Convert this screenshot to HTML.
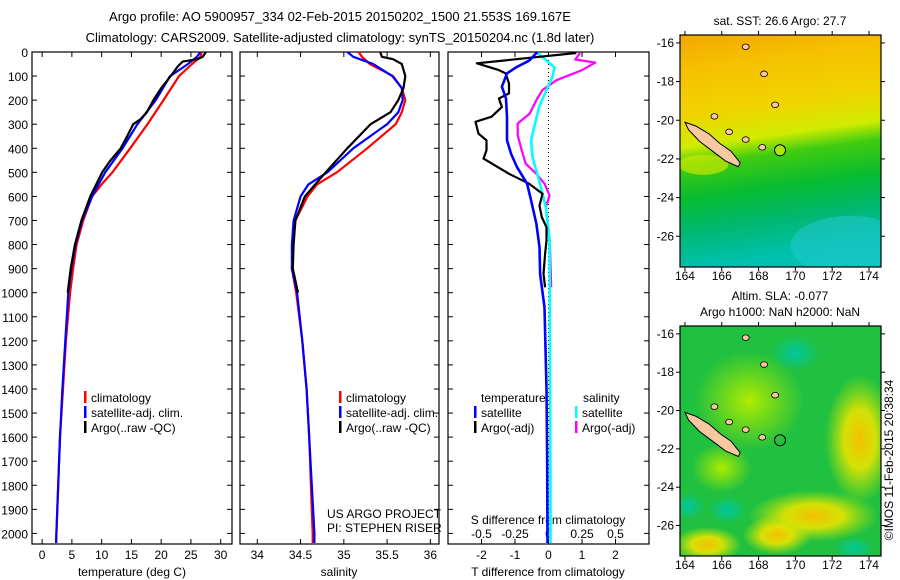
<!DOCTYPE html>
<html><head><meta charset="utf-8"><style>
html,body{margin:0;padding:0;background:#fff;}
svg{display:block;font-family:"Liberation Sans",sans-serif;}
text{font-size:12px;fill:#000;}
</style></head><body>
<svg id="chart" width="900" height="580" viewBox="0 0 900 580">
<defs>
<linearGradient id="sstGrad" x1="0" y1="0" x2="0.12" y2="1">
<stop offset="0" stop-color="#f2a800"/><stop offset="0.15" stop-color="#f6c000"/>
<stop offset="0.35" stop-color="#f0d400"/><stop offset="0.48" stop-color="#d0ec00"/>
<stop offset="0.56" stop-color="#40cc10"/><stop offset="0.7" stop-color="#08bc30"/>
<stop offset="0.84" stop-color="#00b870"/><stop offset="1" stop-color="#00c0b0"/>
</linearGradient>
<radialGradient id="yb"><stop offset="0" stop-color="#f4c000"/><stop offset="0.45" stop-color="#e8e400" stop-opacity="0.9"/><stop offset="1" stop-color="#c0e800" stop-opacity="0"/></radialGradient>
<radialGradient id="lg"><stop offset="0" stop-color="#b0ec00"/><stop offset="1" stop-color="#a8e800" stop-opacity="0"/></radialGradient>
<radialGradient id="tb"><stop offset="0" stop-color="#00c8a0"/><stop offset="1" stop-color="#00c8a0" stop-opacity="0"/></radialGradient>
<clipPath id="m1c"><rect x="680" y="35" width="201" height="232"/></clipPath>
<clipPath id="m2c"><rect x="680" y="326" width="201" height="230"/></clipPath>
</defs>
<text x="340" y="21" text-anchor="middle" style="font-size:13px">Argo profile: AO 5900957_334 02-Feb-2015 20150202_1500 21.553S 169.167E</text>
<text x="340" y="42" text-anchor="middle" style="font-size:13px">Climatology: CARS2009. Satellite-adjusted climatology: synTS_20150204.nc (1.8d later)</text>
<g id="panels"></g>
<g id="maps"></g>
<text transform="translate(893,460) rotate(-90)" text-anchor="middle">©IMOS 11-Feb-2015 20:38:34</text>
</svg>
<script>
const NS="http://www.w3.org/2000/svg";
function mk(tag,attrs,parent,txt){const e=document.createElementNS(NS,tag);for(const k in attrs)e.setAttribute(k,attrs[k]);if(txt!==undefined)e.textContent=txt;parent.appendChild(e);return e;}

// ---- data ----
const depthTicks=[0,100,200,300,400,500,600,700,800,900,1000,1100,1200,1300,1400,1500,1600,1700,1800,1900,2000];
const tempTicks=[0,5,10,15,20,25,30];
const salTicks=[34,34.5,35,35.5,36];
const tdiffTicks=[-2,-1,0,1,2];
const sdiffTicks=[-0.5,-0.25,0,0.25,0.5];
const sdiffLabels=["-0.5","-0.25","0","0.25","0.5"];

const tClimDepth=[0,20,50,100,200,300,400,500,550,600,700,800,900,1000,1200,1400,1600,1800,2000,2040];
const tClim=[26.8,26.6,25.2,23.0,20.4,17.7,14.8,11.8,10.0,8.4,6.9,5.8,5.2,4.7,4.0,3.5,3.0,2.7,2.4,2.35];
const tSatDepth=[0,20,50,100,200,300,400,500,600,700,800,900,1000,1200,1400,1600,1800,2000,2040];
const tSat=[26.6,26.0,24.5,21.5,19.1,16.0,13.5,10.6,8.4,6.7,5.6,4.9,4.4,3.9,3.4,3.0,2.7,2.4,2.35];
const tArgoDepth=[0,20,30,40,60,100,150,200,250,280,300,350,400,450,500,600,700,800,900,1000];
const tArgo=[27.5,27.0,26.1,23.6,22.8,21.6,20.0,18.7,17.6,16.5,15.3,14.3,13.2,11.5,10.1,8.1,6.6,5.5,4.8,4.3];

const sClimDepth=[0,20,50,100,150,200,250,300,400,500,550,600,700,800,900,1000,1200,1400,1600,1800,2000,2040];
const sClim=[35.17,35.21,35.30,35.57,35.67,35.71,35.67,35.60,35.27,34.92,34.69,34.58,34.44,34.41,34.40,34.45,34.52,34.57,34.60,34.62,34.64,34.64];
const sSatDepth=[0,20,50,100,150,200,250,300,400,500,550,600,700,800,900,1000,1200,1400,1600,1800,2000,2040];
const sSat=[35.04,35.11,35.34,35.56,35.67,35.68,35.63,35.50,35.11,34.81,34.59,34.50,34.42,34.40,34.40,34.46,34.52,34.57,34.60,34.63,34.66,34.66];
const sArgoDepth=[0,20,30,50,100,150,200,250,300,400,500,600,700,800,900,1000];
const sArgo=[35.42,35.44,35.57,35.67,35.71,35.69,35.63,35.54,35.31,35.04,34.79,34.55,34.44,34.42,34.41,34.47];

const dTSatDepth=[0,36,64,89,144,193,269,367,422,478,547,617,714,811,922,1061,1400,1700,2040];
const dTSat=[-0.33,-0.58,-0.97,-1.24,-1.39,-1.27,-1.24,-1.24,-1.12,-0.94,-0.64,-0.52,-0.36,-0.27,-0.25,-0.12,-0.06,-0.04,-0.03];
const dTArgoDepth=[4,47,75,89,131,172,193,228,269,290,339,367,408,443,506,547,589,638,686,728,783,839,922,978];
const dTArgo=[0.83,-2.14,-1.48,-1.28,-1.18,-1.18,-1.48,-1.39,-1.70,-2.18,-2.09,-1.85,-1.85,-1.94,-1.18,-0.58,-0.18,-0.27,-0.20,-0.06,-0.06,-0.10,-0.15,-0.10];
const dSSatDepth=[4,36,64,103,158,228,297,367,436,533,644,783,1000,1400,1800,2040];
const dSSat=[-0.08,-0.015,0.045,0.03,-0.015,-0.07,-0.10,-0.13,-0.12,-0.07,-0.02,0.008,0.01,0.012,0.015,0.015];
const dSArgoDepth=[4,31,44,75,117,158,200,256,297,346,408,464,506,547,596,644,783,978];
const dSArgo=[0.235,0.20,0.35,0.25,0.06,-0.045,-0.09,-0.14,-0.23,-0.23,-0.20,-0.17,-0.09,-0.03,0.008,-0.02,0.01,0.02];

// ---- axes ----
const PT=52,PB=544;
const yD=d=>PT+d*0.2407;
const panels=[
 {name:"temperature",x0:32,x1:232,v0:-1.7,v1:31.9},
 {name:"salinity",x0:240,x1:439,v0:33.8,v1:36.1},
 {name:"difference",x0:448,x1:649,v0:-3.0,v1:3.0}
];
const G=document.getElementById("panels");
function xf(p){return v=>p.x0+(v-p.v0)/(p.v1-p.v0)*(p.x1-p.x0);}
const xT=xf(panels[0]),xS=xf(panels[1]),xTD=xf(panels[2]);
const xSD=v=>xTD(v*4);

panels.forEach((p,i)=>{
 const r=mk("rect",{x:p.x0,y:PT,width:p.x1-p.x0,height:PB-PT,fill:"none",stroke:"#000","stroke-width":1.2},G);
 
 
 depthTicks.forEach(d=>{
  mk("line",{x1:p.x0,x2:p.x0+5,y1:yD(d),y2:yD(d),stroke:"#000"},G);
  mk("line",{x1:p.x1,x2:p.x1-5,y1:yD(d),y2:yD(d),stroke:"#000"},G);
 });
});
depthTicks.forEach(d=>{
 const t=mk("text",{x:28,y:yD(d)+5,"text-anchor":"end"},G,String(d));
 
 
});
function xticks(vals,labels,fx,y){
 vals.forEach((v,i)=>{
  mk("line",{x1:fx(v),x2:fx(v),y1:PB,y2:PB-5,stroke:"#000"},G);
  mk("line",{x1:fx(v),x2:fx(v),y1:PT,y2:PT+5,stroke:"#000"},G);
  const t=mk("text",{x:fx(v),y:y,"text-anchor":"middle"},G,labels[i]);
  
  
 });
}
xticks(tempTicks,tempTicks.map(String),xT,559);
xticks(salTicks,salTicks.map(String),xS,559);
xticks(tdiffTicks,tdiffTicks.map(String),xTD,559);
sdiffTicks.forEach((v,i)=>{
 const t=mk("text",{x:xSD(v),y:538,"text-anchor":"middle"},G,sdiffLabels[i]);
 
 
});
[[132,"temperature (deg C)","temperature-axis-title"],[339,"salinity","salinity-axis-title"],[548,"T difference from climatology","t-diff-axis-title"]].forEach(a=>{
 const t=mk("text",{x:a[0],y:576,"text-anchor":"middle"},G,a[1]);
 
 
});
let tt=mk("text",{x:548,y:524,"text-anchor":"middle"},G,"S difference from climatology");


mk("line",{x1:xTD(0),x2:xTD(0),y1:PT,y2:PB,stroke:"#000","stroke-dasharray":"1,3"},G);

function line(ds,vs,fx,color,name,w){
 const pts=ds.map((d,i)=>fx(vs[i]).toFixed(1)+","+yD(d).toFixed(1)).join(" ");
 const l=mk("polyline",{points:pts,fill:"none",stroke:color,"stroke-width":w||2.2,"stroke-linejoin":"round"},G);
 
 
}
line(tClimDepth,tClim,xT,"#ff0000","temp-climatology-line");
line(tSatDepth,tSat,xT,"#0000ff","temp-satellite-line");
line(tArgoDepth,tArgo,xT,"#000000","temp-argo-line");
line(sClimDepth,sClim,xS,"#ff0000","sal-climatology-line");
line(sSatDepth,sSat,xS,"#0000ff","sal-satellite-line");
line(sArgoDepth,sArgo,xS,"#000000","sal-argo-line");
line(dSArgoDepth,dSArgo,xSD,"#ff00ff","s-diff-argo-line");
line(dSSatDepth,dSSat,xSD,"#00ffff","s-diff-satellite-line",2.6);
line(dTArgoDepth,dTArgo,xTD,"#000000","t-diff-argo-line");
line(dTSatDepth,dTSat,xTD,"#0000ff","t-diff-satellite-line",2.6);

function legend(x,y,color,label){
 mk("rect",{x:x,y:y-11,width:2.5,height:12,fill:color},G);
 const t=mk("text",{x:x+7,y:y},G,label);
 
 
}
[[84,"#ff0000","climatology"],[84,"#0000ff","satellite-adj. clim."],[84,"#000000","Argo(..raw -QC)"]].forEach((l,i)=>legend(l[0],402+i*15,l[1],l[2]));
[[339,"#ff0000","climatology"],[339,"#0000ff","satellite-adj. clim."],[339,"#000000","Argo(..raw -QC)"]].forEach((l,i)=>legend(l[0],402+i*15,l[1],l[2]));
tt=mk("text",{x:481,y:402},G,"temperature");
tt=mk("text",{x:583,y:402},G,"salinity");
legend(474,417,"#0000ff","satellite");legend(474,432,"#000000","Argo(-adj)");
legend(575,417,"#00ffff","satellite");legend(575,432,"#ff00ff","Argo(-adj)");
tt=mk("text",{x:327,y:518},G,"US ARGO PROJECT");
tt=mk("text",{x:327,y:532},G,"PI: STEPHEN RISER");

// ---- maps ----
const M=document.getElementById("maps");
const lonTicks=[164,166,168,170,172,174];
const latTicks=[-16,-18,-20,-22,-24,-26];
const floatLon=169.167, floatLat=-21.553;
const ncLon=[164.0,164.6,165.3,165.9,166.5,167.0,166.9,166.2,165.5,164.8,164.2];
const ncLat=[-20.1,-20.3,-20.7,-21.2,-21.6,-22.2,-22.4,-22.1,-21.6,-21.1,-20.5];
const islLon=[167.3,168.3,168.9,165.6,166.4,167.3,168.2];
const islLat=[-16.2,-17.6,-19.2,-19.8,-20.6,-21.0,-21.4];
function mapAxes(top,bot,tag){
 const L=680,R=881;
 const xl=lon=>L+(lon-163.73)*18.4;
 const yl=lat=>top+(-15.59-lat)*((bot-top)/12.0);
 return {L,R,xl,yl,top,bot,tag};
}
function drawMap(m,fill,circleFill){
 const g=mk("g",{"clip-path":"url(#"+m.tag+"c)"},M);
 
 
 fill(g,m);
 const pts=ncLon.map((l,i)=>m.xl(l).toFixed(1)+","+m.yl(ncLat[i]).toFixed(1)).join(" ");
 mk("polygon",{points:pts,fill:"#f8c8a0",stroke:"#000","stroke-width":1},g);
 islLon.forEach((l,i)=>mk("ellipse",{cx:m.xl(l),cy:m.yl(islLat[i]),rx:3.5,ry:2.8,fill:"#f8c8a0",stroke:"#000","stroke-width":0.8},g));
 const c=mk("circle",{cx:m.xl(floatLon),cy:m.yl(floatLat),r:5.5,fill:circleFill,stroke:"#000","stroke-width":1},g);
 
 
 mk("rect",{x:m.L,y:m.top,width:m.R-m.L,height:m.bot-m.top,fill:"none",stroke:"#000","stroke-width":1.2},M);
 lonTicks.forEach(l=>{
  mk("line",{x1:m.xl(l),x2:m.xl(l),y1:m.bot,y2:m.bot+4,stroke:"#000"},M);
  mk("line",{x1:m.xl(l),x2:m.xl(l),y1:m.top,y2:m.top-4,stroke:"#000"},M);
  const t=mk("text",{x:m.xl(l),y:m.bot+13,"text-anchor":"middle"},M,String(l));
  
  
 });
 latTicks.forEach(l=>{
  mk("line",{x1:m.L-4,x2:m.L,y1:m.yl(l),y2:m.yl(l),stroke:"#000"},M);
  mk("line",{x1:m.R,x2:m.R+4,y1:m.yl(l),y2:m.yl(l),stroke:"#000"},M);
  const t=mk("text",{x:m.L-6,y:m.yl(l)+4,"text-anchor":"end"},M,String(l));
  
  
 });
}
const m1=mapAxes(35,267,"m1"), m2=mapAxes(326,556,"m2");
drawMap(m1,(g,m)=>{
 mk("rect",{x:m.L,y:m.top,width:201,height:232,fill:"url(#sstGrad)"},g);
 mk("ellipse",{cx:m.xl(173),cy:m.yl(-26.5),rx:60,ry:30,fill:"#20c8d0",opacity:0.55},g);
 mk("ellipse",{cx:m.xl(165),cy:m.yl(-22.3),rx:25,ry:10,fill:"#c8e800",opacity:0.7},g);
},"#a8e800");
drawMap(m2,(g,m)=>{
 mk("rect",{x:m.L,y:m.top,width:201,height:230,fill:"#20c040"},g);
 mk("ellipse",{cx:m.xl(167.5),cy:m.yl(-19.5),rx:55,ry:50,fill:"url(#lg)"},g);
 mk("ellipse",{cx:m.xl(166),cy:m.yl(-23),rx:30,ry:25,fill:"url(#lg)"},g);
 mk("ellipse",{cx:m.xl(173.5),cy:m.yl(-21.5),rx:35,ry:65,fill:"url(#yb)"},g);
 mk("ellipse",{cx:m.xl(171),cy:m.yl(-25.5),rx:65,ry:26,fill:"url(#yb)"},g);
 mk("ellipse",{cx:m.xl(169),cy:m.yl(-26.5),rx:35,ry:20,fill:"url(#yb)"},g);
 mk("ellipse",{cx:m.xl(165.2),cy:m.yl(-27),rx:35,ry:18,fill:"url(#yb)"},g);
 mk("ellipse",{cx:m.xl(170),cy:m.yl(-17),rx:25,ry:18,fill:"url(#tb)"},g);
 mk("ellipse",{cx:m.xl(166.3),cy:m.yl(-25.2),rx:20,ry:14,fill:"url(#tb)"},g);
 mk("ellipse",{cx:m.xl(164.2),cy:m.yl(-25),rx:16,ry:14,fill:"url(#tb)"},g);
 mk("ellipse",{cx:m.xl(173.2),cy:m.yl(-27.2),rx:20,ry:12,fill:"url(#tb)"},g);
},"none");
tt=mk("text",{x:780,y:25,"text-anchor":"middle"},M,"sat. SST: 26.6 Argo: 27.7");
tt=mk("text",{x:780,y:300,"text-anchor":"middle"},M,"Altim. SLA: -0.077");
tt=mk("text",{x:780,y:316,"text-anchor":"middle"},M,"Argo h1000: NaN h2000: NaN");
</script>
</body></html>
